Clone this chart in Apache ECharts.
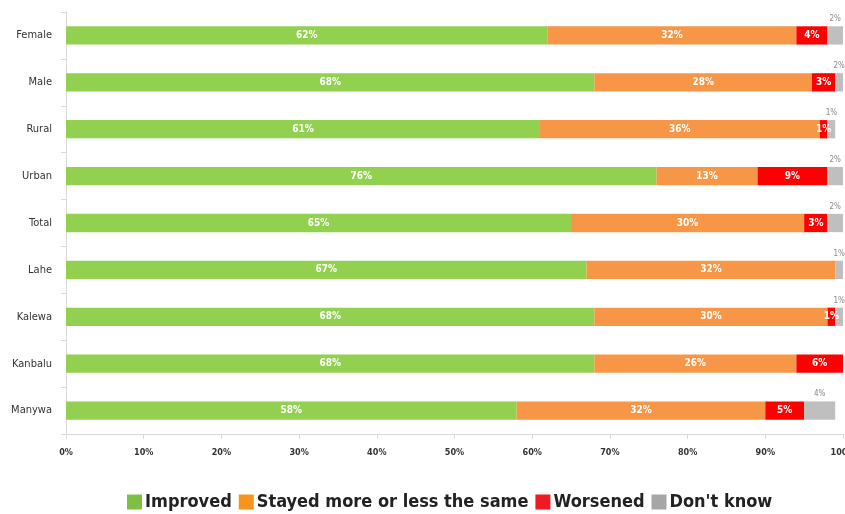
<!DOCTYPE html>
<html><head><meta charset="utf-8">
<script src="https://cdn.jsdelivr.net/npm/echarts@6/dist/echarts.min.js"></script>
<style>html,body{margin:0;padding:0;background:#fff}#c{width:845px;height:514px}</style>
</head><body><div id="c"></div>
<script>
const categories = ["Female","Male","Rural","Urban","Total","Lahe","Kalewa","Kanbalu","Manywa"];
const improved = [62,68,61,76,65,67,68,68,58];
const stayed   = [32,28,36,13,30,32,30,26,32];
const worsened = [4,3,1,9,3,0,1,6,5];
const dontKnow = [2,2,1,2,2,1,1,0,4];
const seriesNames = ["Improved","Stayed more or less the same","Worsened","Don't know"];
const xTicks = [0,10,20,30,40,50,60,70,80,90,100];

const font = "'DejaVu Sans Condensed', 'DejaVu Sans', sans-serif";
const colors = ['#92D050','#F79646','#FF0000','#BFBFBF'];
const legendColors = ['#7DC142','#F7941D','#ED1C24','#A6A6A6'];
const inside = {show:true, position:'inside', color:'#fff', fontWeight:'bold', fontSize:10, fontFamily:font,
  formatter: p => p.value ? p.value + '%' : ''};
function mk(name, data, color, label) {
  return {name, type:'bar', stack:'s', data, barWidth:'39%', itemStyle:{color}, label, emphasis:{disabled:true}};
}
const chart = echarts.init(document.getElementById('c'), null, {renderer:'canvas'});
chart.setOption({
  animation:false,
  grid:{left:66, right:2, top:12, bottom:80, containLabel:false, outerBoundsMode:'none'},
  legend:{top:488, left:122, icon:'rect', itemWidth:15, itemHeight:15, itemGap:7,
    textStyle:{fontSize:18, color:'#222', fontFamily:font, fontWeight:'bold', padding:[0,0,0,-2]},
    data: seriesNames.map((n,i)=>({name:n, itemStyle:{color:legendColors[i]}}))},
  xAxis:{type:'value', min:0, max:100, interval:10,
    axisLine:{show:true, lineStyle:{color:'#d9d9d9'}},
    axisTick:{show:true, length:5, lineStyle:{color:'#d9d9d9'}},
    splitLine:{show:false},
    axisLabel:{fontSize:9, color:'#333', fontFamily:font, margin:14, fontWeight:'bold',
      formatter: v => xTicks.includes(v) ? v + '%' : ''}},
  yAxis:{type:'category', data:categories, inverse:true,
    axisLine:{show:true, lineStyle:{color:'#d9d9d9'}},
    axisTick:{show:true, length:5, lineStyle:{color:'#d9d9d9'}},
    axisLabel:{fontSize:11, color:'#333', fontFamily:font, margin:14}},
  series:[
    mk(seriesNames[0], improved, colors[0], inside),
    mk(seriesNames[1], stayed, colors[1], inside),
    mk(seriesNames[2], worsened, colors[2], inside),
    mk(seriesNames[3], dontKnow, colors[3], {show:true, position:'top', distance:3, color:'#888', fontSize:8, fontFamily:font,
      formatter: p => p.value ? p.value + '%' : ''})
  ]
});
</script></body></html>
